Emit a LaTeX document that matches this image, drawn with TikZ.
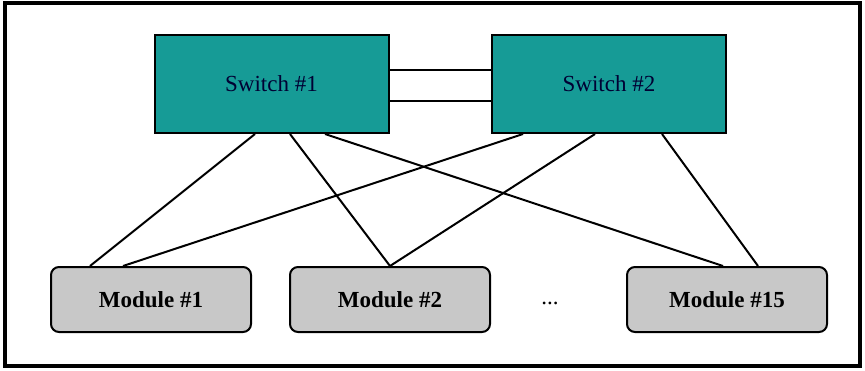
\documentclass[tikz,border=0pt]{standalone}
\usepackage{fontspec}
\setmainfont{Liberation Serif}
\usepackage{tikz}
\usepackage{xcolor}

\definecolor{switchteal}{RGB}{22,155,150}
\definecolor{modgray}{RGB}{200,200,200}

\begin{document}
\begin{tikzpicture}[x=0.5pt,y=-0.5pt,semithick,font=\fontsize{11.5}{13}\selectfont]
  \tikzstyle{switchbox}=[draw=black,line width=1pt,fill=switchteal,text=black!80!blue,
                         minimum width=117pt,minimum height=49pt,inner sep=0pt]
  \tikzstyle{modbox}=[draw=black,line width=1pt,fill=modgray,rounded corners=4pt,
                      minimum width=100pt,minimum height=32.5pt,inner sep=0pt,font=\fontsize{11.5}{13}\selectfont\bfseries]
  \tikzstyle{link}=[line width=1pt]

  \useasboundingbox (0,0) rectangle (865,370);
  \draw[line width=1.6pt] (5,3) rectangle (860,366);

  \node[switchbox] (sw1) at (271.5,84) {Switch \#1};
  \node[switchbox] (sw2) at (609,84) {Switch \#2};

  \node[modbox] (m1)  at (151,299.5) {Module \#1};
  \node[modbox] (m2)  at (390,299.5) {Module \#2};
  \node[modbox] (m15) at (727,299.5) {Module \#15};
  \node (dots) at (550,303) {...};

  % switch to switch
  \draw[line width=1.3pt] ([yshift=7pt]sw1.east) -- ([yshift=7pt]sw2.west);
  \draw[line width=1.3pt] ([yshift=-8.5pt]sw1.east) -- ([yshift=-8.5pt]sw2.west);

  % switch to modules
  \draw[link] ([xshift=-8.25pt]sw1.south) -- ([xshift=-30.5pt]m1.north);
  \draw[link] ([xshift=9.25pt]sw1.south)  -- (m2.north);
  \draw[link] ([xshift=26.75pt]sw1.south) -- ([xshift=-2pt]m15.north);
  \draw[link] ([xshift=-43pt]sw2.south)   -- ([xshift=-14pt]m1.north);
  \draw[link] ([xshift=-7pt]sw2.south)    -- (m2.north);
  \draw[link] ([xshift=26.5pt]sw2.south)  -- ([xshift=15.5pt]m15.north);
\end{tikzpicture}
\end{document}
